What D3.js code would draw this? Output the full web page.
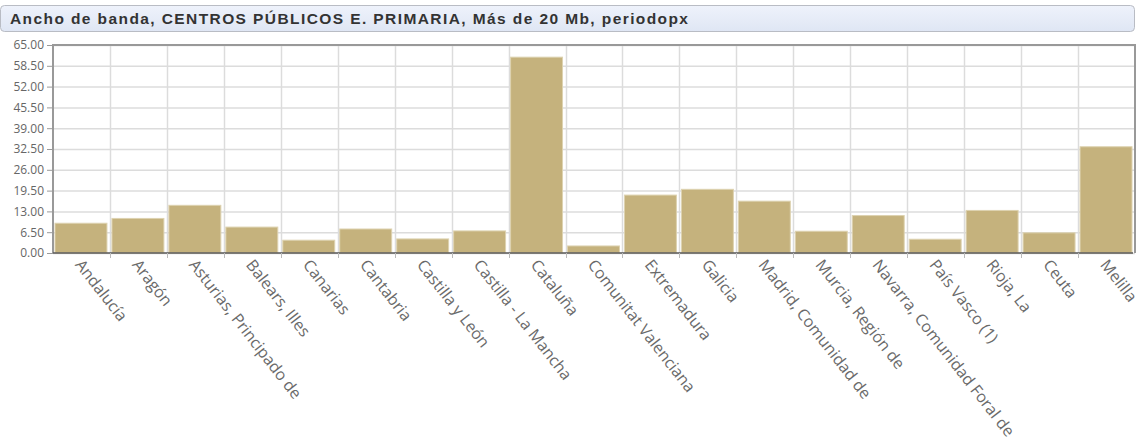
<!DOCTYPE html>
<html>
<head>
<meta charset="utf-8">
<script src="https://cdn.jsdelivr.net/npm/d3@7"></script>
<style>
  body { margin: 0; background: #fff; }
  svg { display: block; }
</style>
</head>
<body>
<div id="chart"></div>
<script>
// data
var titleText = "Ancho de banda, CENTROS PÚBLICOS E. PRIMARIA, Más de 20 Mb, periodopx";
var regions = ["Andalucía", "Aragón", "Asturias, Principado de", "Balears, Illes", "Canarias",
  "Cantabria", "Castilla y León", "Castilla - La Mancha", "Cataluña", "Comunitat Valenciana",
  "Extremadura", "Galicia", "Madrid, Comunidad de", "Murcia, Región de",
  "Navarra, Comunidad Foral de", "País Vasco (1)", "Rioja, La", "Ceuta", "Melilla"];
var values = [9.3, 10.8, 14.9, 8.1, 4.0, 7.5, 4.4, 6.9, 61.2, 2.2,
  18.1, 19.9, 16.2, 6.8, 11.7, 4.3, 13.3, 6.3, 33.2];
var yTicks = [0, 6.5, 13, 19.5, 26, 32.5, 39, 45.5, 52, 58.5, 65];

var W = 1142, H = 443;
var m = {top: 45, left: 53, right: 7, bottom: 190};
var pw = W - m.left - m.right, ph = H - m.top - m.bottom;

var svg = d3.select("#chart").append("svg").attr("width", W).attr("height", H);

// title box
var defs = svg.append("defs");
var grad = defs.append("linearGradient").attr("id", "tg").attr("x1", 0).attr("y1", 0).attr("x2", 0).attr("y2", 1);
grad.append("stop").attr("offset", "0%").attr("stop-color", "#eef2fb");
grad.append("stop").attr("offset", "100%").attr("stop-color", "#dfe6f4");
var sh = defs.append("filter").attr("id", "sh").attr("x", "-5%").attr("y", "-50%").attr("width", "110%").attr("height", "300%");
sh.append("feGaussianBlur").attr("stdDeviation", 1.5);

svg.append("rect").attr("x", 0.5).attr("y", 5.5).attr("width", 1134).attr("height", 26)
  .attr("rx", 4).attr("fill", "url(#tg)").attr("stroke", "#b9bcc4");
var title = svg.append("text").attr("x", 10).attr("y", 24)
  .attr("font-family", "Liberation Sans, Arial, sans-serif").attr("font-weight", "bold")
  .attr("font-size", 15.5).attr("fill", "#333").text(titleText);
// stretch title out to the width seen in the picture
var tl = title.node().getComputedTextLength();
title.attr("letter-spacing", ((678 - tl) / (titleText.length - 1)) + "px");

var g = svg.append("g").attr("transform", "translate(" + m.left + "," + m.top + ")");

var x = d3.scaleBand().domain(regions).range([0, pw]).paddingInner(0).paddingOuter(0);
var y = d3.scaleLinear().domain([0, 65]).range([ph, 0]);

// grid
g.append("g").selectAll("line.h").data(yTicks).join("line")
  .attr("x1", 0).attr("x2", pw).attr("y1", function(d){ return y(d) + 0.5; }).attr("y2", function(d){ return y(d) + 0.5; })
  .attr("stroke", "#dcdcdc").attr("stroke-width", 1.5);
g.append("g").selectAll("line.v").data(regions.slice(1)).join("line")
  .attr("x1", function(d){ return Math.round(x(d)) + 0.5; }).attr("x2", function(d){ return Math.round(x(d)) + 0.5; })
  .attr("y1", 0).attr("y2", ph)
  .attr("stroke", "#dcdcdc").attr("stroke-width", 1.5);

// bars
g.append("g").selectAll("rect").data(values).join("rect")
  .attr("x", function(d, i){ return x(regions[i]) + 2; })
  .attr("width", x.bandwidth() - 5)
  .attr("y", function(d){ return y(d); })
  .attr("height", function(d){ return ph - y(d); })
  .attr("fill", "#c5b27d").attr("stroke", "#ddd2b0").attr("stroke-width", 1);

// frame (left, top, right)
g.append("path").attr("d", "M0," + ph + "V0H" + pw + "V" + ph)
  .attr("fill", "none").attr("stroke", "#999").attr("stroke-width", 2);

// x axis line with shadow
g.append("line").attr("x1", 2).attr("x2", pw - 2).attr("y1", ph + 2).attr("y2", ph + 2)
  .attr("stroke", "#000").attr("stroke-opacity", 0.25).attr("stroke-width", 3).attr("filter", "url(#sh)");
g.append("line").attr("x1", 0).attr("x2", pw - 2).attr("y1", ph).attr("y2", ph)
  .attr("stroke", "#5a5a5a").attr("stroke-width", 1.5);

// y axis
var yAxis = g.append("g").call(d3.axisLeft(y).tickValues(yTicks).tickFormat(d3.format(".2f")).tickSize(6).tickPadding(3));
yAxis.select(".domain").remove();
yAxis.selectAll(".tick line").attr("stroke", "#999").attr("x2", -6).attr("x1", 0);
yAxis.selectAll("text").attr("fill", "#666").attr("font-size", 12)
  .attr("font-family", "Open Sans, sans-serif");

// x axis
var xAxis = g.append("g").attr("transform", "translate(0," + ph + ")")
  .call(d3.axisBottom(x).tickSize(0).tickPadding(0));
xAxis.select(".domain").remove();
xAxis.selectAll(".tick line").remove();
g.append("g").selectAll("line").data(regions.slice(1)).join("line")
  .attr("x1", function(d){ return Math.round(x(d)) + 0.5; }).attr("x2", function(d){ return Math.round(x(d)) + 0.5; })
  .attr("y1", ph).attr("y2", ph + 5).attr("stroke", "#bbb");
xAxis.selectAll(".tick text")
  .attr("fill", "#6a6a6a").attr("font-size", 16).attr("font-family", "Open Sans, sans-serif")
  .attr("text-anchor", "start").attr("dy", null).attr("y", 0).attr("x", 0)
  .attr("transform", "translate(-7,12) rotate(52)");
</script>
</body>
</html>
